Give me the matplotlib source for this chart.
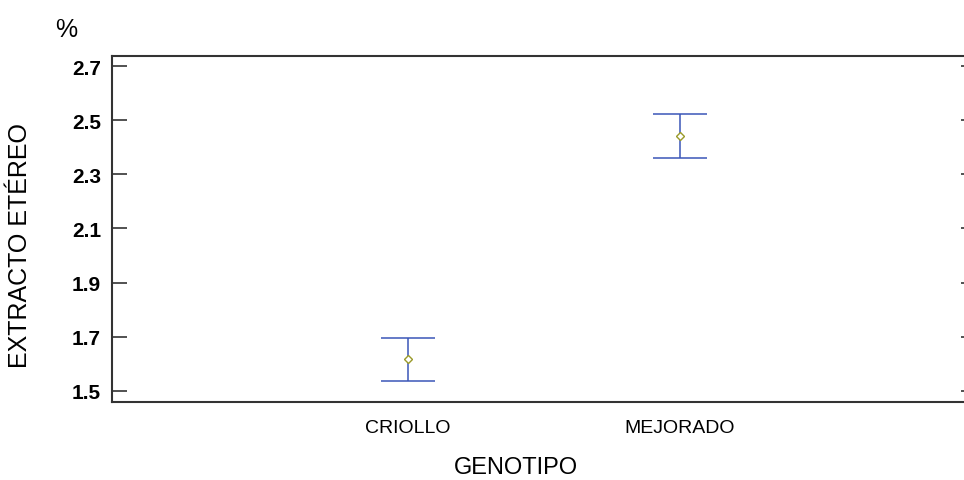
import numpy as np
from matplotlib import pyplot as plt

plt.rcParams['font.family'] = ['Liberation Sans', 'DejaVu Sans']

grupos = ['CRIOLLO', 'MEJORADO']
medias = [1.618, 2.441]
superior = [1.696, 2.522]
inferior = [1.537, 2.362]
yticks = [1.5, 1.7, 1.9, 2.1, 2.3, 2.5, 2.7]

fig = plt.figure(figsize=(9.64, 4.81), dpi=100)
ax = fig.add_axes([112/964, 1-403/481, (976-112)/964, (403-57)/481])

x = np.array([1, 2])
medias = np.array(medias)
err = [medias - np.array(inferior), np.array(superior) - medias]
ax.errorbar(x, medias, yerr=err, fmt='none', ecolor='#3a56b8', elinewidth=1.1,
            capsize=19.5, capthick=1.1)
ax.plot(x, medias, linestyle='none', marker='D', markersize=4, markerfacecolor='white',
        markeredgecolor='#9a9a2a', markeredgewidth=1.0)

ax.set_xlim(-0.088, 3.088)
ax.set_ylim(1.459, 2.737)
ax.set_xticks(x)
ax.set_xticklabels(grupos, fontsize=14)
ax.set_yticks(yticks)
ax.set_yticklabels([f'{v:.1f}' for v in yticks], fontsize=15, fontweight='bold')
ax.tick_params(axis='x', length=0, pad=12)
ax.tick_params(axis='y', direction='in', length=11, width=1.2, color='#333333',
               right=True, pad=8)
for s in ax.spines.values():
    s.set_color('#333333')
    s.set_linewidth(1.5)

fig.text(516/964, 1-468/481, 'GENOTIPO', fontsize=17, ha='center', va='center')
fig.text(20/964, 1-246/481, 'EXTRACTO ETÉREO', fontsize=18, rotation=90,
         ha='center', va='center')
fig.text(66/964, 1-30/481, '%', fontsize=18, ha='center', va='center')

fig.savefig('out.png', dpi=100)
